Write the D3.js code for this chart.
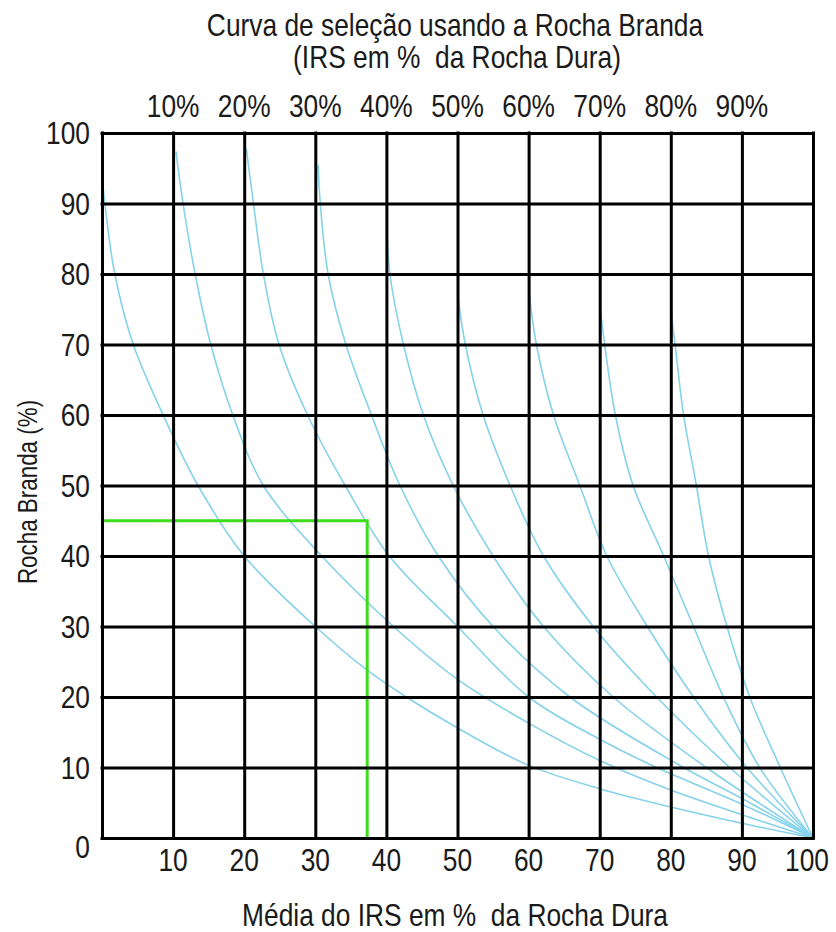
<!DOCTYPE html>
<html>
<head>
<meta charset="utf-8">
<script src="https://cdn.jsdelivr.net/npm/d3@7"></script>
<style>
  body { margin: 0; background: #fff; }
  text { font-family: "Liberation Sans", Arial, sans-serif; fill: #1a1a1a; white-space: pre; }
</style>
</head>
<body>
<script>
// grid / tick values
const gridValues = [0, 10, 20, 30, 40, 50, 60, 70, 80, 90, 100]
const xTickLabels = [10, 20, 30, 40, 50, 60, 70, 80, 90, 100]
const yTickLabels = [0, 10, 20, 30, 40, 50, 60, 70, 80, 90, 100]
const curveLabels = ['10%', '20%', '30%', '40%', '50%', '60%', '70%', '80%', '90%']
const curveLabelPos = [10, 20, 30, 40, 50, 60, 70, 80, 90]

// selection curves, [x, y]
const curve1 = [[0, 94], [0.4, 90], [1.8, 80], [4.4, 70], [8.6, 60], [13.5, 50], [20, 40], [30, 30], [37.3, 23.8], [42.8, 20], [50.2, 15.5], [60, 10.3], [70, 7], [80, 4.4], [90, 2.1], [100, 0]]
const curve2 = [[10.4, 97.4], [11.4, 90], [13.1, 80], [15.3, 70], [18.4, 60], [22.7, 50], [30.9, 40], [41, 30], [50, 22.5], [60, 16.3], [70, 11], [80, 6.8], [90, 3.3], [100, 0]]
const curve3 = [[20.3, 97.8], [21.3, 90], [22.7, 80], [24.9, 70], [28.9, 60], [34.2, 50], [40.4, 40], [50, 30], [60, 20], [70, 14], [78, 10], [90, 4.8], [100, 0]]
const curve4 = [[30.4, 95.5], [30.7, 90], [31.8, 80], [34.3, 70], [37.9, 60], [41.9, 50], [47.3, 40], [55, 30], [65.8, 20], [81.8, 10], [90, 5.6], [100, 0]]
const curve5 = [[40, 88], [40.5, 80], [42.4, 70], [45.2, 60], [49.4, 50], [55, 40], [62.1, 30], [71.9, 20], [85, 10], [100, 0]]
const curve6 = [[50.1, 76.5], [51.1, 70], [53.6, 60], [57.4, 50], [62.1, 40], [69.1, 30], [78, 20], [88.3, 10], [100, 0]]
const curve7 = [[60, 78], [61.1, 70], [63.5, 60], [67.2, 50], [71, 40], [76.7, 30], [83.2, 20], [90.7, 10], [100, 0]]
const curve8 = [[70, 75.6], [70.7, 70], [72.2, 60], [74.7, 50], [79, 40], [83.2, 30], [87.4, 20], [92.5, 10], [100, 0]]
const curve9 = [[80, 74.7], [80.6, 70], [81.8, 60], [83.6, 50], [85.3, 40], [87.9, 30], [91.1, 20], [95.4, 10], [100, 0]]
const curves = [curve1, curve2, curve3, curve4, curve5, curve6, curve7, curve8, curve9]

// green reading guide
const guide = [[0, 45], [37.3, 45], [37.3, 0]]

const margin = { top: 133, right: 23, bottom: 94, left: 102 }
const W = 836
const H = 932

const x = d3.scaleLinear().domain([0, 100]).range([margin.left, W - margin.right])
const y = d3.scaleLinear().domain([0, 100]).range([H - margin.bottom, margin.top])

const svg = d3.select('body').append('svg')
  .attr('width', W)
  .attr('height', H)

// narrow-looking text: scale glyphs horizontally
function label(px, py, str, anchor, size, sx) {
  svg.append('text')
    .attr('transform', `translate(${px},${py}) scale(${sx || 0.85},1)`)
    .attr('text-anchor', anchor)
    .style('font-size', (size || 31) + 'px')
    .text(str)
}

// curves
const line = d3.line()
  .x(d => x(d[0]))
  .y(d => y(d[1]))
  .curve(d3.curveCatmullRom.alpha(0.5))

svg.append('g')
  .selectAll('path')
  .data(curves)
  .join('path')
  .attr('d', line)
  .attr('fill', 'none')
  .attr('stroke', '#86d2ea')
  .attr('stroke-width', 1.6)

// guide line
svg.append('path')
  .datum(guide)
  .attr('d', d3.line().x(d => x(d[0])).y(d => y(d[1])))
  .attr('fill', 'none')
  .attr('stroke', '#3fdc1c')
  .attr('stroke-width', 3)

// grid lines via axes
const vGrid = svg.append('g')
  .attr('transform', `translate(0,${y(0)})`)
  .call(d3.axisBottom(x).tickValues(gridValues).tickSize(-(y(0) - y(100))).tickFormat(''))
const hGrid = svg.append('g')
  .attr('transform', `translate(${x(0)},0)`)
  .call(d3.axisLeft(y).tickValues(gridValues).tickSize(-(x(100) - x(0))).tickFormat(''))

for (const g of [vGrid, hGrid]) {
  g.select('.domain').remove()
  g.selectAll('.tick line')
    .attr('stroke', '#000')
    .attr('stroke-width', 3)
    .attr('stroke-linecap', 'square')
}

// tick labels
xTickLabels.forEach(v => label(x(v) - (v === 100 ? 6 : 0), y(0) + 33, String(v), 'middle'))
yTickLabels.forEach(v => label(x(0) - 12, y(v) + 11 + (v === 0 ? 9 : 0), String(v), 'end'))
curveLabels.forEach((t, i) => label(x(curveLabelPos[i]), 117, t, 'middle'))

// titles
label(455, 36, 'Curva de seleção usando a Rocha Branda', 'middle')
label(457, 68, '(IRS em %  da Rocha Dura)', 'middle')
label(455, 926, 'Média do IRS em %  da Rocha Dura', 'middle')

svg.append('text')
  .attr('transform', `translate(37,492) rotate(-90) scale(0.8,1)`)
  .attr('text-anchor', 'middle')
  .style('font-size', '28px')
  .text('Rocha Branda (%)')
</script>
</body>
</html>
